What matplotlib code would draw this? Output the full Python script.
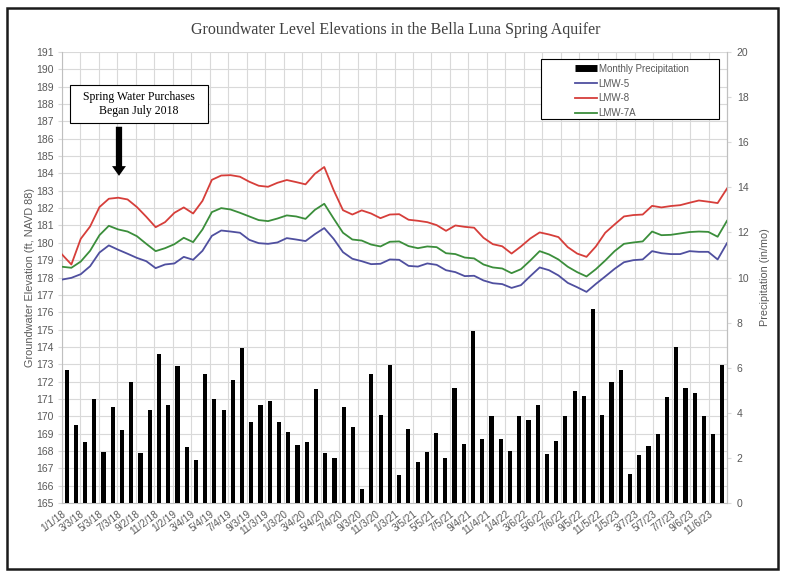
import matplotlib
matplotlib.use("Agg")
import matplotlib.pyplot as plt
from matplotlib.patches import Rectangle
from matplotlib.lines import Line2D
import numpy as np

# ---------------- data ----------------
tick_labels = ["1/1/18", "3/3/18", "5/3/18", "7/3/18", "9/2/18", "11/2/18",
               "1/2/19", "3/4/19", "5/4/19", "7/4/19", "9/3/19", "11/3/19",
               "1/3/20", "3/4/20", "5/4/20", "7/4/20", "9/3/20", "11/3/20",
               "1/3/21", "3/5/21", "5/5/21", "7/5/21", "9/4/21", "11/4/21",
               "1/4/22", "3/6/22", "5/6/22", "7/6/22", "9/5/22", "11/5/22",
               "1/5/23", "3/7/23", "5/7/23", "7/7/23", "9/6/23", "11/6/23"]

precip = [5.88, 3.47, 2.72, 4.61, 2.25, 4.27, 3.24, 5.38, 2.22, 4.14,
          6.62, 4.35, 6.09, 2.48, 1.92, 5.74, 4.63, 4.14, 5.47, 6.89,
          3.61, 4.36, 4.52, 3.61, 3.16, 2.59, 2.72, 5.06, 2.23, 2.01,
          4.26, 3.39, 0.62, 5.74, 3.92, 6.13, 1.26, 3.30, 1.83, 2.28,
          3.10, 2.00, 5.09, 2.63, 7.64, 2.82, 3.86, 2.85, 2.31, 3.84,
          3.67, 4.35, 2.19, 2.75, 3.87, 4.97, 4.76, 8.60, 3.92, 5.37,
          5.90, 1.30, 2.13, 2.54, 3.07, 4.72, 6.92, 5.09, 4.88, 3.84,
          3.06, 6.13]

lmw8 = [179.33, 178.75, 180.23, 180.94, 182.06, 182.54, 182.60, 182.50, 182.06, 181.50,
        180.90, 181.19, 181.73, 182.04, 181.69, 182.42, 183.63, 183.88, 183.90, 183.81,
        183.52, 183.29, 183.23, 183.46, 183.62, 183.50, 183.37, 183.98, 184.37, 183.04,
        181.88, 181.63, 181.87, 181.69, 181.42, 181.63, 181.65, 181.33, 181.27, 181.19,
        181.02, 180.69, 181.00, 180.92, 180.87, 180.29, 179.92, 179.80, 179.38, 179.79,
        180.25, 180.60, 180.48, 180.33, 179.75, 179.38, 179.19, 179.79, 180.58, 181.06,
        181.52, 181.60, 181.63, 182.13, 182.04, 182.12, 182.17, 182.31, 182.44, 182.37,
        182.29, 183.13]

lmw7a = [178.62, 178.56, 178.92, 179.54, 180.44, 180.98, 180.77, 180.65, 180.38, 179.94,
         179.52, 179.69, 179.92, 180.29, 180.04, 180.77, 181.77, 182.00, 181.92, 181.73,
         181.52, 181.31, 181.25, 181.40, 181.58, 181.52, 181.38, 181.90, 182.25, 181.40,
         180.58, 180.19, 180.13, 179.90, 179.79, 180.06, 180.08, 179.81, 179.69, 179.79,
         179.75, 179.40, 179.35, 179.15, 179.10, 178.75, 178.58, 178.52, 178.25, 178.48,
         178.98, 179.52, 179.33, 179.04, 178.62, 178.31, 178.06, 178.48, 178.98, 179.52,
         179.94, 180.02, 180.08, 180.65, 180.44, 180.46, 180.54, 180.62, 180.65, 180.63,
         180.35, 181.27]

lmw5 = [177.88, 177.98, 178.19, 178.65, 179.44, 179.85, 179.60, 179.37, 179.13, 178.94,
        178.54, 178.75, 178.81, 179.19, 179.02, 179.54, 180.40, 180.71, 180.65, 180.58,
        180.17, 179.98, 179.94, 180.02, 180.27, 180.19, 180.10, 180.50, 180.85, 180.23,
        179.46, 179.08, 178.94, 178.77, 178.79, 179.04, 179.02, 178.67, 178.63, 178.81,
        178.73, 178.42, 178.31, 178.08, 178.10, 177.83, 177.67, 177.62, 177.40, 177.56,
        178.08, 178.58, 178.42, 178.12, 177.69, 177.44, 177.17, 177.63, 178.06, 178.50,
        178.88, 179.00, 179.04, 179.52, 179.40, 179.35, 179.35, 179.52, 179.48, 179.48,
        179.04, 179.98]

# ---------------- figure ----------------
W, H = 786, 578
fig = plt.figure(figsize=(W / 100, H / 100), dpi=100)
fig.patch.set_facecolor("white")

def fx(px):
    return px / W

def fy(py):
    return 1 - py / H

L, R, T, B = 62, 727, 52, 503
pos = [fx(L), fy(B), fx(R) - fx(L), fy(T) - fy(B)]

grid_c = "#d9d9d9"
tick_c = "#595959"
tick_font = "Liberation Sans"

n = len(precip)
cats = np.arange(n)

ax = fig.add_axes(pos)
ax.set_xlim(-0.5, n - 0.5)
ax.set_ylim(165, 191)
ax.set_yticks(np.arange(165, 192, 1))
ax.set_xticks(np.arange(0, n, 2) - 0.5)
ax.set_xticklabels(tick_labels, rotation=37, ha="right", va="top",
                   rotation_mode="anchor", fontsize=7.2, color=tick_c,
                   family=tick_font)
ax.tick_params(axis="x", length=0, pad=4)
ax.tick_params(axis="y", length=3, color=grid_c, labelsize=7.5,
               labelcolor=tick_c, pad=3)
for lab in ax.get_yticklabels():
    lab.set_family(tick_font)
ax.grid(True, color=grid_c, lw=0.8)
ax.set_axisbelow(True)
ax.spines["top"].set_visible(False)
for s in ["left", "bottom", "right"]:
    ax.spines[s].set_color("#bfbfbf")
    ax.spines[s].set_linewidth(0.8)
ax.set_ylabel("Groundwater Elevation (ft, NAVD 88)", fontsize=7.8,
              color=tick_c, family=tick_font, labelpad=1)

# bars on secondary (right) axis
ax2 = ax.twinx()
ax2.bar(cats, precip, width=0.45, color="black", zorder=2)
ax2.set_ylim(0, 20)
ax2.set_yticks(np.arange(0, 21, 2))
ax2.tick_params(axis="y", length=3, color=grid_c, labelsize=7.5,
                labelcolor=tick_c, pad=4)
for lab in ax2.get_yticklabels():
    lab.set_family(tick_font)
for s in ["top", "left", "bottom"]:
    ax2.spines[s].set_visible(False)
ax2.spines["right"].set_color("#bfbfbf")
ax2.set_ylabel("Precipitation (in/mo)", fontsize=7.8, color=tick_c,
               family=tick_font, labelpad=8)

# lines on secondary x axis (edge to edge)
ax3 = ax.twiny()
ax3.set_xlim(0, n - 1)
idx = np.arange(len(lmw5))
c5, c8, c7 = "#4F4F9F", "#D63E3A", "#3B8E3B"
ax3.plot(idx, lmw5, color=c5, lw=1.3)
ax3.plot(idx, lmw8, color=c8, lw=1.3)
ax3.plot(idx, lmw7a, color=c7, lw=1.3)
ax3.set_xticks([])
for s in ax3.spines.values():
    s.set_visible(False)

# legend
fig.patches.append(Rectangle((fx(541), fy(119)), fx(719) - fx(541), fy(59) - fy(119),
                             transform=fig.transFigure, fill=True, fc="white",
                             ec="black", lw=0.8, zorder=5))
handles = [Line2D([0], [0], color="black", lw=5, solid_capstyle="butt"),
           Line2D([0], [0], color=c5, lw=1.3),
           Line2D([0], [0], color=c8, lw=1.3),
           Line2D([0], [0], color=c7, lw=1.3)]
labels = ["Monthly Precipitation", "LMW-5", "LMW-8", "LMW-7A"]
leg = fig.legend(handles, labels, loc="upper left",
                 bbox_to_anchor=(fx(567), fy(56)), bbox_transform=fig.transFigure,
                 frameon=False, handlelength=2.3,
                 handletextpad=0.15, labelspacing=0.5, borderpad=0.3,
                 prop={"family": tick_font, "size": 7.0})
for t in leg.get_texts():
    t.set_color(tick_c)
leg.set_zorder(6)

# annotation box + arrow
fig.patches.append(Rectangle((fx(70), fy(123)), fx(208) - fx(70), fy(85) - fy(123),
                             transform=fig.transFigure, fc="white", ec="black",
                             lw=0.8, zorder=5))
fig.text(fx(139), fy(104), "Spring Water Purchases\nBegan July 2018",
         ha="center", va="center", fontsize=8.5, family="Liberation Serif",
         color="black", linespacing=1.3, zorder=6)
ax.annotate("", xy=(5.67, 183.7), xytext=(5.67, 186.85),
            arrowprops=dict(arrowstyle="simple,head_width=1.0,head_length=0.7,tail_width=0.45",
                            color="black", lw=0), zorder=6)

# title
fig.text(0.503, fy(30), "Groundwater Level Elevations in the Bella Luna Spring Aquifer",
         ha="center", va="center", fontsize=11.5, family="Liberation Serif",
         color="#404040")

# outer border
fig.patches.append(Rectangle((fx(7), fy(569)), fx(778) - fx(7), fy(8) - fy(569),
                             transform=fig.transFigure, fill=False, ec="#1a1a1a",
                             lw=1.8, zorder=10))

fig.savefig("out.png", dpi=100, facecolor="white")
